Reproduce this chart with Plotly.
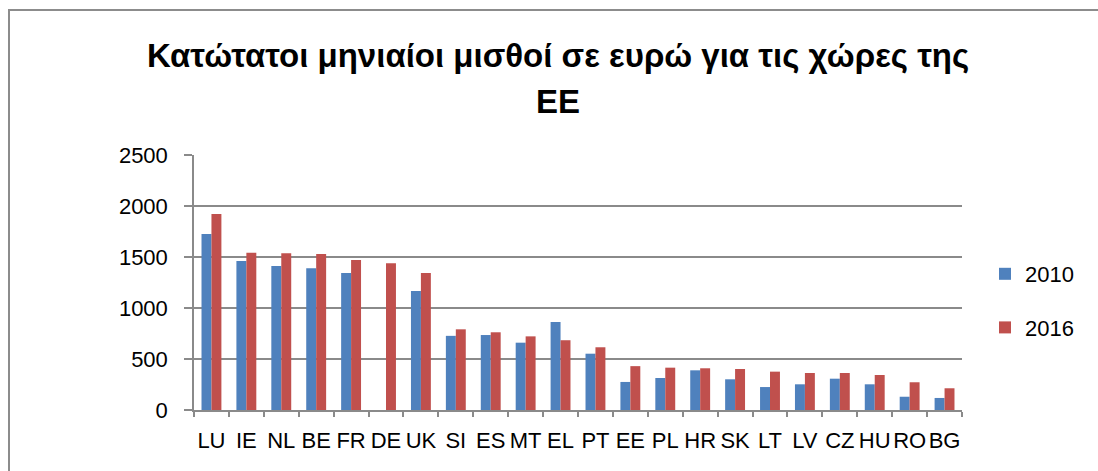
import plotly.graph_objects as go

countries = ["LU", "IE", "NL", "BE", "FR", "DE", "UK", "SI", "ES", "MT", "EL",
             "PT", "EE", "PL", "HR", "SK", "LT", "LV", "CZ", "HU", "RO", "BG"]
wages_2010 = [1725, 1461, 1412, 1389, 1343, None, 1167, 727, 735, 660, 863,
              552, 275, 314, 389, 301, 225, 252, 307, 252, 130, 118]
wages_2016 = [1922, 1542, 1536, 1529, 1471, 1438, 1343, 791, 762, 722, 684,
              615, 430, 415, 409, 402, 376, 363, 363, 343, 272, 213]
title_line1 = "Κατώτατοι μηνιαίοι μισθοί σε ευρώ για τις χώρες της"
title_line2 = "EE"

W, H = 1098, 471
L, R, T, B = 194, 136, 155, 61
pw, ph = W - L - R, H - T - B


def px(x):
    return (x - L) / pw


def py(y):
    return (H - B - y) / ph


FONT = "Liberation Sans"
GRID = "#8a8a8a"

fig = go.Figure()
fig.add_trace(go.Bar(x=countries, y=wages_2010, name="2010", marker_color="#4F81BD",
                     marker_line_width=0, legendgroup="a"))
fig.add_trace(go.Bar(x=countries, y=wages_2016, name="2016", marker_color="#C0504D",
                     marker_line_width=0, legendgroup="b"))

fig.update_layout(
    width=W, height=H,
    margin=dict(l=L, r=R, t=T, b=B, autoexpand=False),
    paper_bgcolor="white", plot_bgcolor="white",
    barmode="group", bargap=0.43, bargroupgap=0,
    font=dict(family=FONT, size=22, color="black"),
    legend=dict(x=px(985), xanchor="left", y=py(301), yanchor="middle",
                font=dict(size=22), tracegroupgap=22, itemwidth=30,
                bgcolor="rgba(0,0,0,0)"),
    xaxis=dict(showline=True, linecolor=GRID, linewidth=1.5, ticks="outside",
               tickson="boundaries", ticklen=5, tickcolor=GRID, tickwidth=1.5,
               ticklabelstandoff=10,
               tickangle=0, tickfont=dict(size=22), showgrid=False, fixedrange=True),
    yaxis=dict(range=[0, 2500], dtick=500, showgrid=True, gridcolor=GRID, gridwidth=1.5,
               showline=True, linecolor=GRID, linewidth=1.5, ticks="outside",
               ticklen=8, tickcolor=GRID, tickwidth=1.5, ticklabelstandoff=12,
               tickfont=dict(size=22), zeroline=False, fixedrange=True),
    annotations=[
        dict(text="<b>" + title_line1 + "</b>", x=px(558), y=py(55), xref="paper", yref="paper",
             xanchor="center", yanchor="middle", showarrow=False,
             font=dict(family=FONT, size=33, color="black")),
        dict(text="<b>" + title_line2 + "</b>", x=px(558), y=py(101), xref="paper", yref="paper",
             xanchor="center", yanchor="middle", showarrow=False,
             font=dict(family=FONT, size=33, color="black")),
    ],
    shapes=[
        dict(type="rect", xref="paper", yref="paper", x0=px(9), x1=px(1102), y0=py(480), y1=py(10),
             line=dict(color="#8c8c8c", width=2), fillcolor="rgba(0,0,0,0)", layer="below"),
    ],
)

fig.write_html("out.html", config={"displayModeBar": False},
               post_script="document.body.style.margin='0';")
